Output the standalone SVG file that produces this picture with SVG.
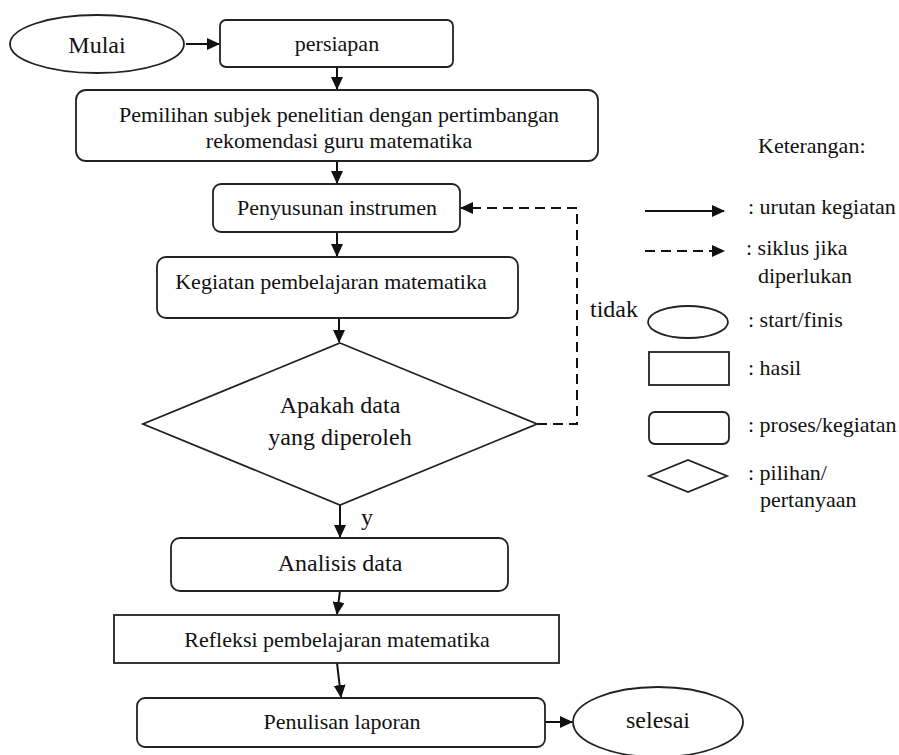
<svg xmlns="http://www.w3.org/2000/svg" width="899" height="755" viewBox="0 0 899 755">
<style>
.n{fill:#fff;stroke:#222;stroke-width:1.8}
.c{fill:none;stroke:#111;stroke-width:2}
.d{fill:none;stroke:#111;stroke-width:2;stroke-dasharray:10 6}
</style>
<defs>
<marker id="ah" markerUnits="userSpaceOnUse" markerWidth="13" markerHeight="12" refX="12" refY="6" orient="auto">
<path d="M0,0 L13,6 L0,12 z" fill="#111"/>
</marker>
</defs>
<rect width="899" height="755" fill="#fff"/>

<g id="connectors">
<line class="c" x1="186" y1="44" x2="219" y2="44" marker-end="url(#ah)"/>
<line class="c" x1="337" y1="67" x2="337" y2="89" marker-end="url(#ah)"/>
<line class="c" x1="337" y1="161" x2="337" y2="183" marker-end="url(#ah)"/>
<line class="c" x1="337" y1="232" x2="337" y2="256" marker-end="url(#ah)"/>
<line class="c" x1="339" y1="318" x2="339" y2="342" marker-end="url(#ah)"/>
<line class="c" x1="340" y1="505" x2="340" y2="537" marker-end="url(#ah)"/>
<line class="c" x1="340" y1="591" x2="337" y2="614" marker-end="url(#ah)"/>
<line class="c" x1="337" y1="663" x2="341" y2="697" marker-end="url(#ah)"/>
<line class="c" x1="545" y1="722" x2="572" y2="722" marker-end="url(#ah)"/>
<polyline class="d" points="537,424 577,424 577,208 461,208" marker-end="url(#ah)"/>
<text font-family="Liberation Serif" font-size="24" fill="#111" x="590" y="317">tidak</text>
<text font-family="Liberation Serif" font-size="24" fill="#111" x="361" y="525">y</text>
</g>

<g id="mulai">
<ellipse class="n" cx="97" cy="44" rx="87" ry="29"/>
<text font-family="Liberation Serif" font-size="24" fill="#111" x="97" y="53" text-anchor="middle">Mulai</text>
</g>
<g id="persiapan">
<rect class="n" x="220" y="20" width="233" height="47" rx="6"/>
<text font-family="Liberation Serif" font-size="22" fill="#111" x="337" y="51" text-anchor="middle">persiapan</text>
</g>
<g id="pemilihan">
<rect class="n" x="76" y="90" width="522" height="71" rx="10"/>
<text font-family="Liberation Serif" font-size="22" fill="#111" x="339" y="122" text-anchor="middle">Pemilihan subjek penelitian dengan pertimbangan</text>
<text font-family="Liberation Serif" font-size="22" fill="#111" x="339" y="148" text-anchor="middle">rekomendasi guru matematika</text>
</g>
<g id="penyusunan">
<rect class="n" x="213" y="184" width="247" height="48" rx="8"/>
<text font-family="Liberation Serif" font-size="22" fill="#111" x="337" y="215" text-anchor="middle">Penyusunan instrumen</text>
</g>
<g id="kegiatan">
<rect class="n" x="157" y="257" width="361" height="61" rx="9"/>
<text font-family="Liberation Serif" font-size="22" fill="#111" x="331" y="289" text-anchor="middle">Kegiatan pembelajaran matematika</text>
</g>
<g id="keputusan">
<polygon class="n" points="340,343 537,424 340,505 143,424"/>
<text font-family="Liberation Serif" font-size="24" fill="#111" x="340" y="413" text-anchor="middle">Apakah data</text>
<text font-family="Liberation Serif" font-size="24" fill="#111" x="340" y="445" text-anchor="middle">yang diperoleh</text>
</g>
<g id="analisis">
<rect class="n" x="171" y="538" width="337" height="53" rx="9"/>
<text font-family="Liberation Serif" font-size="24" fill="#111" x="340" y="571" text-anchor="middle">Analisis data</text>
</g>
<g id="refleksi">
<rect class="n" x="114" y="615" width="445" height="48"/>
<text font-family="Liberation Serif" font-size="22" fill="#111" x="337" y="647" text-anchor="middle">Refleksi pembelajaran matematika</text>
</g>
<g id="penulisan">
<rect class="n" x="137" y="698" width="408" height="49" rx="8"/>
<text font-family="Liberation Serif" font-size="22" fill="#111" x="342" y="729" text-anchor="middle">Penulisan laporan</text>
</g>
<g id="selesai">
<ellipse class="n" cx="658" cy="722" rx="85" ry="35"/>
<text font-family="Liberation Serif" font-size="24" fill="#111" x="658" y="728" text-anchor="middle">selesai</text>
</g>

<g id="legend">
<text font-family="Liberation Serif" font-size="22" fill="#111" x="758" y="153">Keterangan:</text>
<line class="c" x1="645" y1="211" x2="724" y2="211" marker-end="url(#ah)"/>
<text font-family="Liberation Serif" font-size="22" fill="#111" x="748" y="214">: urutan kegiatan</text>
<line class="d" x1="645" y1="251" x2="724" y2="251" marker-end="url(#ah)"/>
<text font-family="Liberation Serif" font-size="22" fill="#111" x="746" y="255">: siklus jika</text>
<text font-family="Liberation Serif" font-size="22" fill="#111" x="758" y="283">diperlukan</text>
<ellipse class="n" cx="688" cy="322" rx="40" ry="16"/>
<text font-family="Liberation Serif" font-size="22" fill="#111" x="748" y="327">: start/finis</text>
<rect class="n" x="649" y="352" width="80" height="33"/>
<text font-family="Liberation Serif" font-size="22" fill="#111" x="748" y="375">: hasil</text>
<rect class="n" x="649" y="412" width="80" height="32" rx="6"/>
<text font-family="Liberation Serif" font-size="22" fill="#111" x="748" y="432">: proses/kegiatan</text>
<polygon class="n" points="649,476 688,460 727,476 688,492"/>
<text font-family="Liberation Serif" font-size="22" fill="#111" x="748" y="480">: pilihan/</text>
<text font-family="Liberation Serif" font-size="22" fill="#111" x="760" y="507">pertanyaan</text>
</g>
</svg>
